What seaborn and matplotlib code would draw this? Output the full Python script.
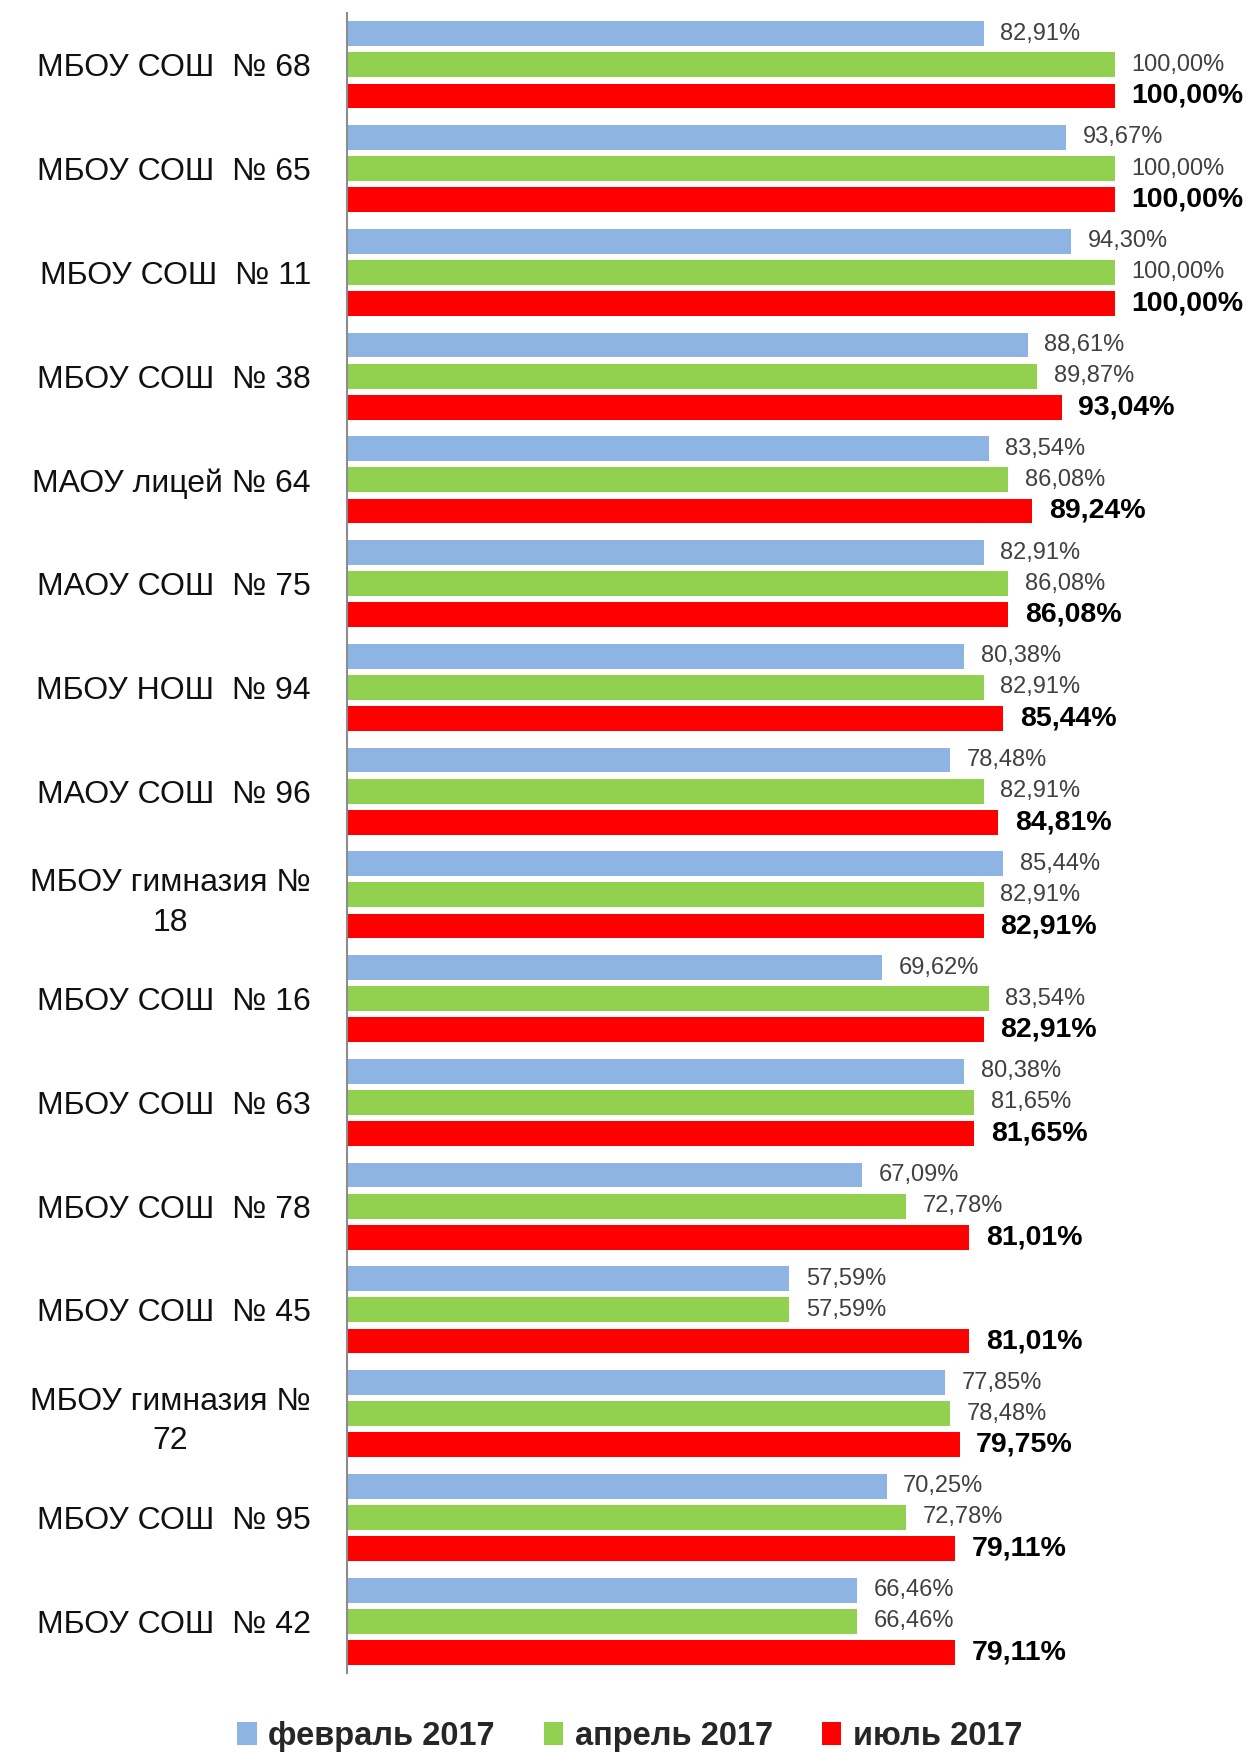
import numpy as np
import pandas as pd
import matplotlib
matplotlib.use("Agg")
import matplotlib.pyplot as plt
import seaborn as sns

# data
schools = ["МБОУ СОШ  № 68", "МБОУ СОШ  № 65", "МБОУ СОШ  № 11", "МБОУ СОШ  № 38",
           "МАОУ лицей № 64", "МАОУ СОШ  № 75", "МБОУ НОШ  № 94", "МАОУ СОШ  № 96",
           "МБОУ гимназия №\n18", "МБОУ СОШ  № 16", "МБОУ СОШ  № 63", "МБОУ СОШ  № 78",
           "МБОУ СОШ  № 45", "МБОУ гимназия №\n72", "МБОУ СОШ  № 95", "МБОУ СОШ  № 42"]
periods = ["февраль 2017", "апрель 2017", "июль 2017"]
feb = [82.91, 93.67, 94.30, 88.61, 83.54, 82.91, 80.38, 78.48,
       85.44, 69.62, 80.38, 67.09, 57.59, 77.85, 70.25, 66.46]
apr = [100.00, 100.00, 100.00, 89.87, 86.08, 86.08, 82.91, 82.91,
       82.91, 83.54, 81.65, 72.78, 57.59, 78.48, 72.78, 66.46]
jul = [100.00, 100.00, 100.00, 93.04, 89.24, 86.08, 85.44, 84.81,
       82.91, 82.91, 81.65, 81.01, 81.01, 79.75, 79.11, 79.11]
colors = ["#8DB4E2", "#92D050", "#FF0000"]

df = pd.DataFrame({
    "school": schools * 3,
    "period": np.repeat(periods, len(schools)),
    "value": feb + apr + jul,
})

sns.set_style("white")
plt.rcParams["font.family"] = ["Liberation Sans", "DejaVu Sans"]

fig = plt.figure(figsize=(12.47, 17.53), dpi=100)
ax = fig.add_axes([0.2783, 0.0456, 0.6159, 0.9470])

sns.barplot(data=df, y="school", x="value", hue="period", orient="h",
            order=schools, hue_order=periods, palette=colors,
            width=0.9, gap=0.2, linewidth=0, saturation=1, ax=ax)

# value labels, bold for the last period
fmt = lambda v: f"{v:.2f}".replace(".", ",") + "%"
for i, cont in enumerate(ax.containers):
    vals = [feb, apr, jul][i]
    if i == 2:
        ax.bar_label(cont, labels=[fmt(v) for v in vals], padding=12,
                     fontsize=20.5, fontweight="bold", color="black", clip_on=False)
    else:
        ax.bar_label(cont, labels=[fmt(v) for v in vals], padding=12,
                     fontsize=17, color="#404040", clip_on=False)

ax.set_xlim(0, 100)
ax.set_ylim(15.5, -0.5)
ax.set_xticks([])
ax.set_xlabel("")
ax.set_ylabel("")
ax.tick_params(axis="y", length=0, pad=26, labelsize=23, labelcolor="#111111")
for t in ax.get_yticklabels():
    t.set_multialignment("center")
    t.set_linespacing(1.4)
for s in ["top", "right", "bottom"]:
    ax.spines[s].set_visible(False)
ax.spines["left"].set_color("#8C8C8C")
ax.spines["left"].set_linewidth(1.5)

handles, labels = ax.get_legend_handles_labels()
ax.legend_.remove()
fig.legend(handles, labels, loc="lower center", bbox_to_anchor=(0.505, -0.016),
           ncol=3, frameon=False, prop={"weight": "bold", "size": 23.5},
           handlelength=0.6, handleheight=0.7, handletextpad=0.35, columnspacing=1.5)

fig.savefig("out.png", dpi=100)
